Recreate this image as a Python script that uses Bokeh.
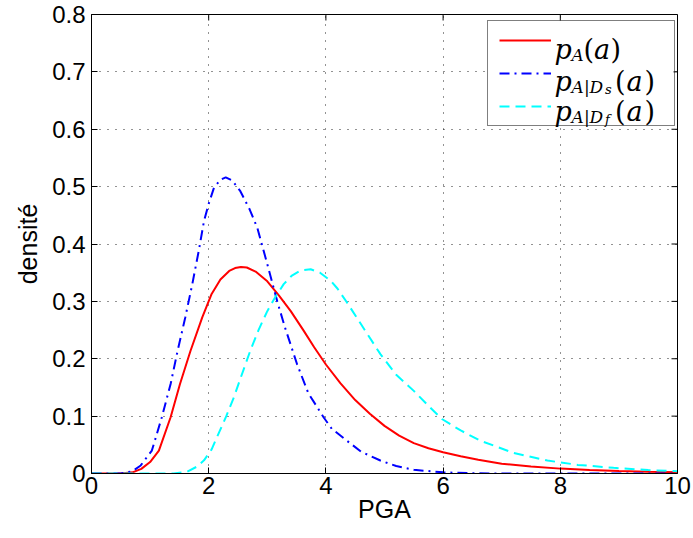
import math
from bokeh.plotting import figure
from bokeh.models import Range1d, FixedTicker, Legend, LegendItem
from bokeh.core.properties import value
from bokeh.embed import file_html
from bokeh.resources import INLINE

# ---------------- data ----------------
x_ticks = [0, 2, 4, 6, 8, 10]
x_tick_labels = ["0", "2", "4", "6", "8", "10"]
y_ticks = [0, 0.1, 0.2, 0.3, 0.4, 0.5, 0.6, 0.7, 0.8]
y_tick_labels = ["0", "0.1", "0.2", "0.3", "0.4", "0.5", "0.6", "0.7", "0.8"]

# p_A(a)
pa_x = [0, 0.5, 0.7, 0.85, 1.0, 1.15, 1.35, 1.51, 1.69, 1.89, 2.05, 2.2, 2.35,
        2.45, 2.55, 2.65, 2.8, 3.0, 3.2, 3.4, 3.62, 3.8, 4.0, 4.25, 4.5, 4.75,
        5.0, 5.25, 5.5, 5.75, 6.0, 6.3, 6.6, 7.0, 7.5, 8.0, 8.5, 9.0, 9.5, 10]
pa_y = [0, 0, 0.002, 0.008, 0.02, 0.04, 0.098, 0.156, 0.214, 0.272, 0.313,
        0.338, 0.353, 0.358, 0.36, 0.359, 0.352, 0.335, 0.31, 0.283, 0.249,
        0.22, 0.19, 0.157, 0.128, 0.104, 0.083, 0.066, 0.053, 0.044, 0.037,
        0.03, 0.024, 0.017, 0.012, 0.0085, 0.006, 0.0043, 0.003, 0.002]

# p_{A|Ds}(a)
ds_x = [0, 0.5, 0.7, 0.84, 1.03, 1.2, 1.35, 1.47, 1.6, 1.72, 1.83, 1.92, 2.0,
        2.09, 2.2, 2.29, 2.4, 2.54, 2.7, 2.83, 3.0, 3.17, 3.3, 3.51, 3.7, 3.96,
        4.1, 4.36, 4.6, 4.93, 5.2, 5.5, 6.0, 6.5, 7.0, 10]
ds_y = [0, 0, 0.004, 0.014, 0.04, 0.098, 0.156, 0.214, 0.272, 0.33, 0.388,
        0.44, 0.47, 0.498, 0.512, 0.516, 0.511, 0.492, 0.46, 0.428, 0.365,
        0.30, 0.255, 0.19, 0.14, 0.098, 0.078, 0.057, 0.038, 0.0226, 0.013,
        0.0064, 0.002, 0.0005, 0, 0]

# p_{A|Df}(a)
df_x = [0, 1.4, 1.63, 1.8, 1.92, 2.05, 2.14, 2.3, 2.43, 2.55, 2.71, 2.85, 3.0,
        3.14, 3.28, 3.42, 3.57, 3.74, 3.9, 4.08, 4.2, 4.36, 4.6, 4.93, 5.2, 5.5,
        5.75, 5.98, 6.3, 6.64, 7.2, 7.78, 8.3, 8.91, 9.5, 10]
df_y = [0, 0, 0.003, 0.012, 0.023, 0.042, 0.063, 0.10, 0.133, 0.168, 0.214, 0.25,
        0.283, 0.308, 0.33, 0.345, 0.354, 0.356, 0.35, 0.336, 0.322, 0.298, 0.26,
        0.208, 0.172, 0.144, 0.118, 0.095, 0.075, 0.057, 0.036, 0.0226, 0.015,
        0.0099, 0.006, 0.004]

# ---------------- figure ----------------
W, H = 693, 538
ML, MR, MT, MB = 91, 16, 14, 65
FW, FH = W - ML - MR, H - MT - MB        # frame size in px
X0, X1, Y0, Y1 = 0, 10, 0, 0.8

def sx2x(sx):
    return X0 + sx * (X1 - X0) / FW

def sy2y(sy):
    return Y0 + sy * (Y1 - Y0) / FH

p = figure(width=W, height=H, output_backend="svg", toolbar_location=None,
           x_range=Range1d(X0, X1), y_range=Range1d(Y0, Y1),
           min_border_left=ML, min_border_right=MR, min_border_top=MT,
           min_border_bottom=MB, background_fill_color="white",
           border_fill_color="white")
p.outline_line_color = "black"
p.outline_line_width = 1

FONT = "Liberation Sans"

for ax, ticks, labels in ((p.xaxis[0], x_ticks, x_tick_labels),
                          (p.yaxis[0], y_ticks, y_tick_labels)):
    ax.ticker = FixedTicker(ticks=ticks)
    ax.major_label_overrides = dict(zip(ticks, labels))
    ax.major_tick_in = 6
    ax.major_tick_out = 0
    ax.minor_tick_in = 0
    ax.minor_tick_out = 0
    ax.axis_line_color = "black"
    ax.major_tick_line_color = "black"
    ax.major_label_text_font = FONT
    ax.major_label_text_font_size = "24px"
    ax.major_label_text_color = "black"
    ax.axis_label_text_font = FONT
    ax.axis_label_text_font_size = "25px"
    ax.axis_label_text_font_style = "normal"
    ax.axis_label_text_color = "black"

p.xaxis[0].axis_label = "PGA"
p.yaxis[0].axis_label = "densité"
p.xaxis[0].major_label_standoff = 3
p.xaxis[0].axis_label_standoff = -2
p.yaxis[0].major_label_standoff = 6
p.yaxis[0].axis_label_standoff = 7

# tick marks on the top and right edges of the box (inside, like the reference)
p.ray(x=x_ticks, y=[Y1] * len(x_ticks), length=6, length_units="screen",
      angle=-math.pi / 2, line_color="black", line_width=1)
p.ray(x=[X1] * len(y_ticks), y=y_ticks, length=6, length_units="screen",
      angle=math.pi, line_color="black", line_width=1)

for g, t in ((p.xgrid[0], x_ticks), (p.ygrid[0], y_ticks)):
    g.ticker = FixedTicker(ticks=t)
    g.grid_line_color = "black"
    g.grid_line_alpha = 0.85
    g.grid_line_width = 1
    g.grid_line_dash = "1 7"

# ---------------- curves ----------------
r_a = p.line(pa_x, pa_y, line_color="#ff0000", line_width=2)
r_s = p.line(ds_x, ds_y, line_color="#0000ff", line_width=2, line_dash="10 5 2 5")
r_f = p.line(df_x, df_y, line_color="#00ffff", line_width=2, line_dash="10 6")

# ---------------- legend ----------------
LEG_X, LEG_Y = 396, 347          # bottom-left of legend box, frame px
LEG_W, LEG_H = 186, 104
LEG_TOP = LEG_Y + LEG_H

# white backing of the legend box (hides the grid behind it)
p.quad(left=[sx2x(LEG_X)], right=[sx2x(LEG_X + LEG_W)],
       bottom=[sy2y(LEG_Y)], top=[sy2y(LEG_TOP)],
       fill_color="white", line_color=None)

legend = Legend(items=[LegendItem(label=value(" "), renderers=[r_a]),
                       LegendItem(label=value(" "), renderers=[r_s]),
                       LegendItem(label=value(" "), renderers=[r_f])],
                location=(LEG_X, LEG_Y), padding=11, spacing=17,
                glyph_width=52, glyph_height=16, label_height=16,
                label_width=107, label_standoff=5, margin=0,
                border_line_color="black", border_line_width=1,
                background_fill_alpha=0.0)
p.add_layout(legend)

# math-style legend texts built from pieces; offsets (px) from the legend box top-left
MATH_FONT = "DejaVu Serif"

def piece(txt, dx, dy, size, style):
    p.text(x=[sx2x(LEG_X + dx)], y=[sy2y(LEG_TOP - dy)],
           text=[txt], text_font=value(MATH_FONT),
           text_font_size=value(f"{size}px"), text_font_style=value(style),
           text_baseline="alphabetic", text_align="left", text_color="black")

# row 1: p_A(a)
b1 = 27
piece("p", 67, b1, 27, "italic")
piece("A", 84, b1 + 5, 17, "italic")
piece("(", 96, b1, 27, "normal")
piece("a", 106.5, b1, 27, "italic")
piece(")", 123, b1, 27, "normal")

# rows 2 and 3: p_{A|D_s}(a), p_{A|D_f}(a)
for base, sub in ((59, "s"), (89, "f")):
    piece("p", 67, base, 27, "italic")
    piece("A", 84, base + 5, 17, "italic")
    piece("|", 96.5, base + 5, 17, "normal")
    piece("D", 102, base + 5, 17, "italic")
    piece(sub, 117.5, base + 8, 13, "italic")
    piece("(", 127.5, base, 27, "normal")
    piece("a", 139, base, 27, "italic")
    piece(")", 157, base, 27, "normal")

open("out.html", "w").write(file_html(p, INLINE))
